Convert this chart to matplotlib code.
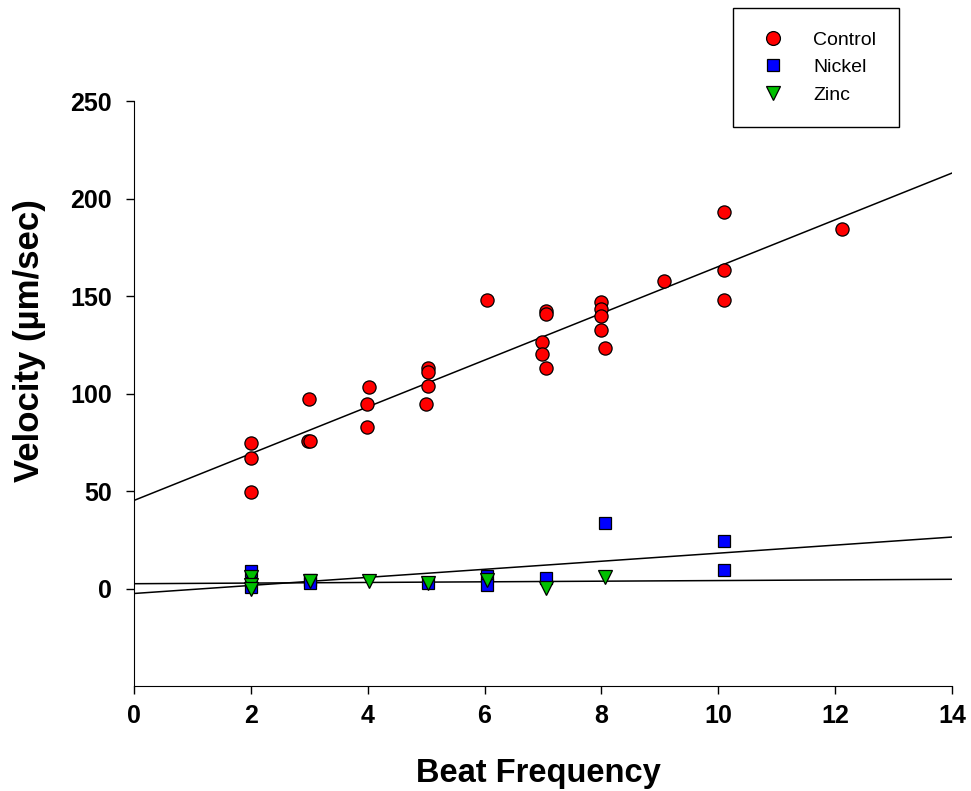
import numpy as np
import matplotlib.pyplot as plt

# Control
control_x = [2, 2, 2, 2.98, 3.02, 2.99, 4.03, 3.99, 3.99, 5.04, 5.04, 5.04, 4.99, 6.05,
             7.06, 7.06, 6.99, 6.99, 7.06, 7.99, 7.99, 7.99, 7.99, 8.07, 9.07,
             10.09, 10.09, 10.09, 12.12]
control_y = [74.8, 67.0, 49.7, 75.4, 75.4, 97.3, 103.6, 94.6, 82.9, 113.0, 110.8, 103.9, 94.6, 148.0,
             142.5, 140.6, 126.3, 120.3, 113.2, 147.0, 143.2, 140.0, 132.6, 123.2, 157.9,
             192.9, 163.5, 147.8, 184.2]

# Nickel
nickel_x = [2, 2, 3.02, 3.02, 5.04, 6.05, 6.05, 7.06, 8.07, 10.09, 10.09]
nickel_y = [9.2, 1.0, 4.2, 2.7, 2.7, 6.4, 2.0, 5.5, 33.6, 24.2, 9.7]

# Zinc
zinc_x = [2, 2, 2, 3.02, 4.03, 5.04, 6.05, 7.06, 8.07]
zinc_y = [5.8, 2.0, 0.0, 3.8, 3.8, 2.8, 4.2, 0.2, 6.0]

xticks = [0, 2, 4, 6, 8, 10, 12, 14]
yticks = [0, 50, 100, 150, 200, 250]

font = ["Liberation Sans", "DejaVu Sans"]

fig = plt.figure(figsize=(9.71, 7.91), dpi=100)
ax = fig.add_axes([0.138, 0.1327, 0.8424, 0.7396])

series = [
    (control_x, control_y, "o", "#ff0000", "Control", 9.5),
    (nickel_x, nickel_y, "s", "#0000ff", "Nickel", 8.5),
    (zinc_x, zinc_y, "v", "#00c000", "Zinc", 10),
]

line_x = np.array([0, 14])
for xs, ys, m, c, lab, ms in series:
    k, b = np.polyfit(xs, ys, 1)
    ax.plot(line_x, k * line_x + b, color="black", lw=1.1, zorder=1)

for xs, ys, m, c, lab, ms in series:
    ax.plot(xs, ys, linestyle="none", marker=m, markersize=ms, markerfacecolor=c,
            markeredgecolor="black", markeredgewidth=0.9, label=lab, zorder=3)

ax.set_xlim(0, 14)
ax.set_ylim(-50, 250)
ax.set_xticks(xticks)
ax.set_yticks(yticks)
ax.spines["top"].set_visible(False)
ax.spines["right"].set_visible(False)
ax.tick_params(direction="out", length=6, width=1)
ax.tick_params(axis="x", pad=7)
ax.tick_params(axis="y", pad=10)

for t in ax.get_xticklabels() + ax.get_yticklabels():
    t.set_fontfamily(font)
    t.set_fontweight("bold")
    t.set_fontsize(18)

ax.set_xlabel("Beat Frequency", fontfamily=font, fontweight="bold", fontsize=23.5)
ax.set_ylabel("Velocity (µm/sec)", fontfamily=font, fontweight="bold", fontsize=25)
ax.xaxis.set_label_coords(0.494, -0.123)
ax.yaxis.set_label_coords(-0.108, 0.59)

leg = ax.legend(loc="upper left", bbox_to_anchor=(0.7549, 0.9899), bbox_transform=fig.transFigure,
                frameon=True, fancybox=False, framealpha=1, edgecolor="black",
                prop={"family": font, "size": 14},
                handlelength=1.72, handletextpad=1.2, borderpad=1.2, borderaxespad=0,
                labelspacing=0.5, markerscale=1.05)
leg.get_frame().set_linewidth(1.0)

fig.savefig("out.png", dpi=100)
